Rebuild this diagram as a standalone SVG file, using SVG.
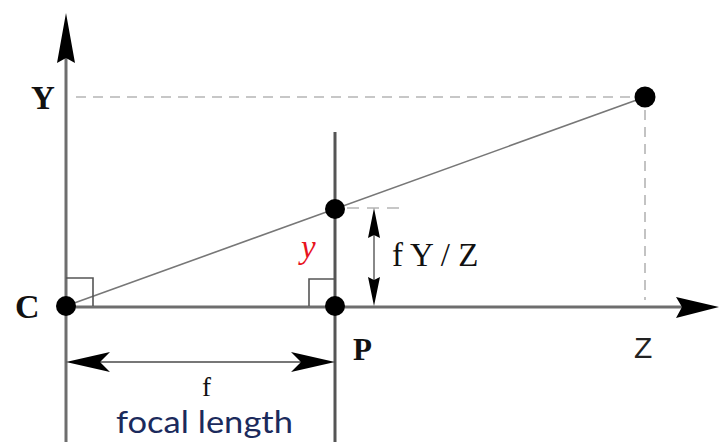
<svg xmlns="http://www.w3.org/2000/svg" width="719" height="442" viewBox="0 0 719 442">
  <style>
    .axis { stroke: #6e6e6e; stroke-width: 3; fill: none; }
    .plane { stroke: #555; stroke-width: 3; fill: none; }
    .ray { stroke: #777; stroke-width: 1.6; fill: none; }
    .dash { stroke: #b5b5b5; stroke-width: 1.6; fill: none; stroke-dasharray: 10 7; }
    .thin { stroke: #555; stroke-width: 1.6; fill: none; }
    .dim { stroke: #888; stroke-width: 2; fill: none; }
    .dot { fill: #000; }
    .head { fill: #000; }
    .lbl { font-family: "Liberation Serif", "Times New Roman", serif; fill: #111; }
    .bold { font-weight: bold; }
  </style>
  <rect width="719" height="442" fill="#fff"/>

  <g id="connectors">
    <!-- Y axis -->
    <line class="axis" x1="66" y1="55" x2="66" y2="442"/>
    <path class="head" d="M66,13 L75,63 L66,58 L57,63 Z"/>
    <!-- Z axis -->
    <line class="axis" x1="66" y1="307" x2="685" y2="307"/>
    <path class="head" d="M719,307 L676,297 L682,307 L676,318 Z"/>
    <!-- image plane -->
    <line class="plane" x1="335" y1="132" x2="335" y2="442"/>
    <!-- dashed projections -->
    <line class="dash" x1="76" y1="97" x2="634" y2="97"/>
    <line class="dash" x1="645" y1="110" x2="645" y2="300"/>
    <!-- ray -->
    <line class="ray" x1="66" y1="306" x2="645" y2="97"/>
    <!-- right angle marks -->
    <polyline class="thin" points="66,278 93,278 93,306"/>
    <polyline class="thin" points="309,306 309,279 335,279"/>
    <!-- fY/Z dimension -->
    <line class="dash" x1="347" y1="208" x2="402" y2="208" style="stroke-dasharray:12 8"/>
    <line class="dim" x1="374" y1="230" x2="374" y2="285"/>
    <path class="head" d="M374,208 L380,238 L374,235 L368,238 Z"/>
    <path class="head" d="M374,306 L380,277 L374,280 L368,277 Z"/>
    <!-- focal length dimension -->
    <line class="dim" x1="80" y1="362" x2="320" y2="362" style="stroke:#777"/>
    <path class="head" d="M66,362 L110,352 L100,362 L110,372 Z"/>
    <path class="head" d="M335,362 L291,352 L301,362 L291,372 Z"/>
  </g>

  <g id="node-C">
    <circle class="dot" cx="66" cy="306" r="10"/>
    <text class="lbl bold" x="15" y="318" font-size="34">C</text>
  </g>
  <g id="node-P">
    <circle class="dot" cx="335" cy="306" r="10"/>
    <text class="lbl bold" x="353" y="360" font-size="31">P</text>
  </g>
  <g id="node-image-point">
    <circle class="dot" cx="335" cy="209" r="10"/>
    <text x="301" y="258" font-size="33" font-style="italic" fill="#e8141e" font-family="Liberation Serif, Times New Roman, serif">y</text>
  </g>
  <g id="node-world-point">
    <circle class="dot" cx="645" cy="97" r="10.5"/>
  </g>
  <g id="label-Y">
    <text class="lbl bold" x="31" y="109" font-size="33">Y</text>
  </g>
  <g id="label-Z">
    <text x="634" y="358" font-size="30" fill="#222" font-family="Liberation Sans, Arial, sans-serif">Z</text>
  </g>
  <g id="label-fYZ">
    <text class="lbl" x="392" y="266" font-size="33" fill="#222">f Y / Z</text>
  </g>
  <g id="label-f">
    <text class="lbl" x="202" y="396" font-size="27">f</text>
    <text x="116" y="433" font-size="31" fill="#1b2a5c" font-family="Lato, Open Sans, sans-serif" textLength="177" lengthAdjust="spacingAndGlyphs">focal length</text>
  </g>
</svg>
